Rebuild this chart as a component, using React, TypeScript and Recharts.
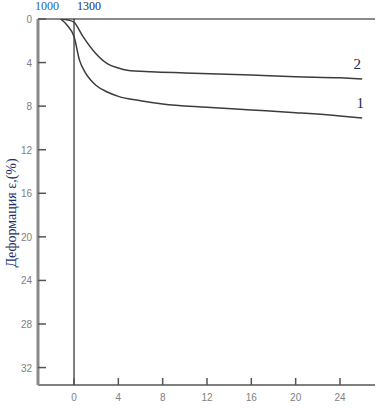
import { LineChart, Line, XAxis, YAxis, ReferenceLine } from "recharts";

// curve 1 (lower)
const curve1X = [-1.2, -0.6, 0, 0.5, 1, 1.5, 2, 3, 4, 6, 8, 12, 16, 20, 24, 26];
const curve1Y = [0, 0.6, 1.6, 3.8, 4.9, 5.6, 6.1, 6.7, 7.1, 7.5, 7.8, 8.1, 8.35, 8.6, 8.9, 9.1];

// curve 2 (upper)
const curve2X = [-1.2, -0.5, 0, 0.8, 1.9, 3, 4, 4.8, 7, 10, 16, 20, 24, 26];
const curve2Y = [0, 0.1, 0.3, 1.6, 3.1, 4.1, 4.5, 4.7, 4.85, 4.95, 5.15, 5.3, 5.4, 5.5];

const xTicks = [0, 4, 8, 12, 16, 20, 24];
const yTicks = [0, 4, 8, 12, 16, 20, 24, 28, 32];

const toPoints = (xs: number[], ys: number[]) =>
  xs.map((x, i) => ({ x, y: ys[i] }));

const data1 = toPoints(curve1X, curve1Y);
const data2 = toPoints(curve2X, curve2Y);

const endLabel = (text: string, dx: number, count: number) => (props: any) => {
  if (props.index !== count - 1) return null;
  return (
    <text
      x={props.x + dx}
      y={props.y - 10}
      textAnchor="middle"
      fontFamily="Liberation Serif, serif"
      fontSize={15}
      fill="#1a2a55"
    >
      {text}
    </text>
  );
};

const YTick = (props: any) => {
  const { y, payload } = props;
  return (
    <g>
      <line x1={38} x2={46} y1={y} y2={y} stroke="#555" strokeWidth={1.5} />
      <text
        x={32}
        y={y + 4}
        textAnchor="end"
        fontFamily="Liberation Sans, Arial, sans-serif"
        fontSize={10}
        fill="#808080"
      >
        {payload.value}
      </text>
    </g>
  );
};

const XTick = (props: any) => {
  const { x, payload } = props;
  return (
    <g>
      <line x1={x} x2={x} y1={378} y2={385} stroke="#555" strokeWidth={1.5} />
      <text
        x={x}
        y={401}
        textAnchor="middle"
        fontFamily="Liberation Sans, Arial, sans-serif"
        fontSize={10}
        fill="#808080"
      >
        {payload.value}
      </text>
    </g>
  );
};

export default function App() {
  return (
    <div style={{ position: "absolute", left: 0, top: 0, width: 388, height: 412, background: "#fff" }}>
      <LineChart
        width={388}
        height={412}
        margin={{ top: 19, right: 13, bottom: 0, left: 0 }}
      >
        <XAxis
          dataKey="x"
          type="number"
          domain={[-3.25, 27.16]}
          ticks={xTicks}
          allowDataOverflow
          height={27}
          axisLine={{ stroke: "#000", strokeWidth: 1 }}
          tickLine={false}
          tick={<XTick />}
        />
        <YAxis
          dataKey="y"
          type="number"
          reversed
          domain={[0, 33.6]}
          ticks={yTicks}
          allowDataOverflow
          width={38}
          axisLine={{ stroke: "#8a8a8a", strokeWidth: 3 }}
          tickLine={false}
          tick={<YTick />}
        />
        <YAxis
          yAxisId="right"
          orientation="right"
          width={0}
          tick={false}
          axisLine={{ stroke: "#8a8a8a", strokeWidth: 3 }}
        />
        <ReferenceLine y={0} stroke="#8a8a8a" strokeWidth={2} />
        <ReferenceLine x={0} stroke="#000" strokeWidth={1} />
        <Line
          data={data2}
          dataKey="y"
          type="monotone"
          stroke="#3c3c3c"
          strokeWidth={1.5}
          dot={false}
          isAnimationActive={false}
          label={endLabel("2", -5, data2.length)}
        />
        <Line
          data={data1}
          dataKey="y"
          type="monotone"
          stroke="#3c3c3c"
          strokeWidth={1.5}
          dot={false}
          isAnimationActive={false}
          label={endLabel("1", -2, data1.length)}
        />
      </LineChart>
      <div
        style={{
          position: "absolute",
          left: 35,
          top: -1,
          fontFamily: "Liberation Serif, serif",
          fontSize: 12,
          color: "#1f63b5",
        }}
      >
        1000
      </div>
      <div
        style={{
          position: "absolute",
          left: 77,
          top: -1,
          fontFamily: "Liberation Serif, serif",
          fontSize: 12,
          color: "#1a2f66",
        }}
      >
        1300
      </div>
      <div
        style={{
          position: "absolute",
          left: 12,
          top: 213,
          transform: "translate(-50%, -50%) rotate(-90deg)",
          whiteSpace: "nowrap",
          fontFamily: "Liberation Serif, serif",
          fontSize: 14,
          color: "#1a2f66",
        }}
      >
        Деформация ε,(%)
      </div>
    </div>
  );
}
